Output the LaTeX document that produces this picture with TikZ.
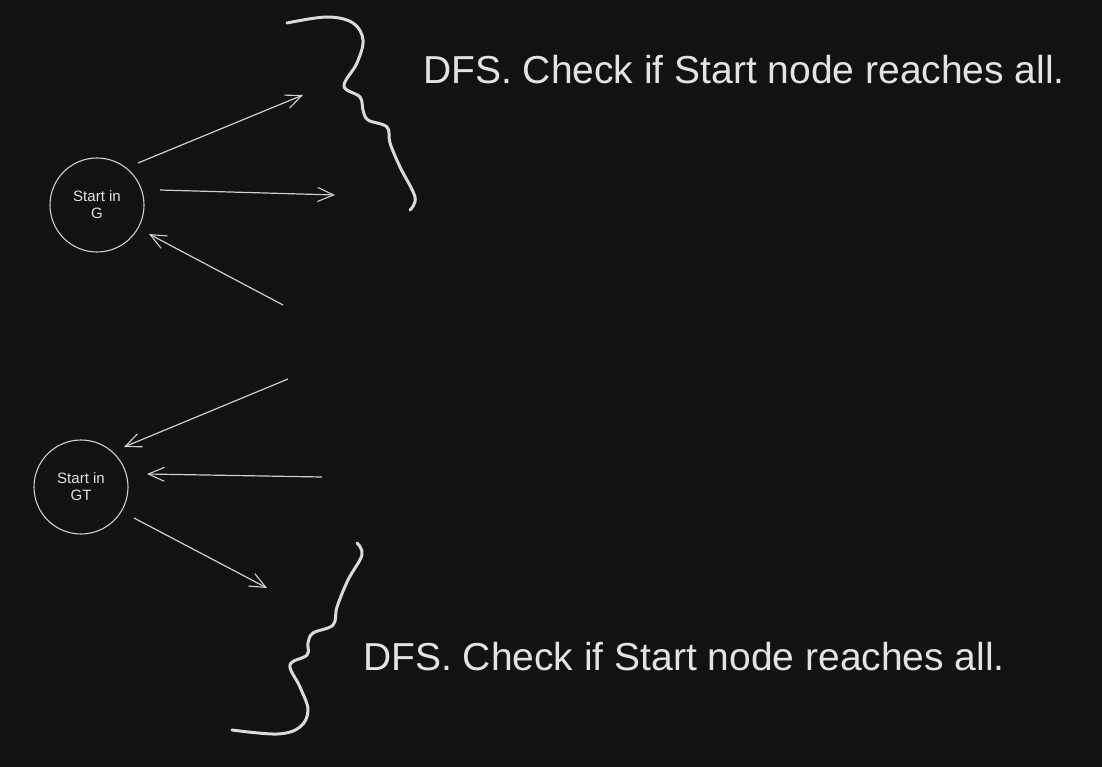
\documentclass[tikz,border=0pt]{standalone}
\usepackage{fontspec}
\setmainfont{Liberation Sans}
\usetikzlibrary{arrows.meta}
\definecolor{bgdark}{HTML}{121212}
\definecolor{inkgray}{HTML}{CFCFCF}
\definecolor{penwhite}{HTML}{DADADA}
\definecolor{textgray}{HTML}{E3E3E3}
\begin{document}
\begin{tikzpicture}[x=1pt, y=-1pt,
    startnode/.style={circle, draw=inkgray, line width=1.1pt, minimum size=94pt, inner sep=0pt,
      align=center, text=textgray, font=\fontsize{15}{17}\selectfont},
    arr/.style={draw=inkgray, line width=1.2pt, -{Straight Barb[length=16pt, width=14pt, line width=1.1pt]}},
    brace/.style={draw=penwhite, line width=3pt, line cap=round, line join=round},
    note/.style={text=textgray, font=\fontsize{39}{46}\selectfont, inner sep=0pt, anchor=west}]
        \fill[bgdark] (0, 0) rectangle (1102, 767);
        \useasboundingbox (0, 0) rectangle (1102, 767);

        \node[startnode] (g) at (97, 205) {Start in\\G};
        \node[startnode] (gt) at (81, 487) {Start in\\GT};

        \coordinate (g1s) at (138, 163);  \coordinate (g1e) at (303, 95);
        \coordinate (g2s) at (160, 190);  \coordinate (g2e) at (335, 195);
        \coordinate (g3s) at (283, 305);  \coordinate (g3e) at (149, 234);
        \coordinate (t1s) at (288, 379);  \coordinate (t1e) at (124, 447);
        \coordinate (t2s) at (322, 477);  \coordinate (t2e) at (147, 474);
        \coordinate (t3s) at (134, 518);  \coordinate (t3e) at (267, 588);

        \draw[arr] (g1s) -- (g1e);
        \draw[arr] (g2s) -- (g2e);
        \draw[arr] (g3s) -- (g3e);
        \draw[arr] (t1s) -- (t1e);
        \draw[arr] (t2s) -- (t2e);
        \draw[arr] (t3s) -- (t3e);

        \draw[brace] plot[smooth, tension=0.6] coordinates {(287, 23) (327, 17) (353, 23) (363, 40) (357, 63) (344, 86)
          (360, 97) (363, 110) (368, 120) (387, 127) (390, 143) (400, 167) (415, 197) (410, 210)};
        \draw[brace] plot[smooth, tension=0.6] coordinates {(357, 543) (362, 555) (348, 580) (337, 607) (333, 625)
          (313, 633) (308, 643) (307, 655) (290, 665) (300, 687) (308, 710) (300, 727) (277, 734) (232, 730)};

        \node[note] (topnote) at (423, 70) {DFS. Check if Start node reaches all.};
        \node[note] (botnote) at (363, 657) {DFS. Check if Start node reaches all.};
\end{tikzpicture}
\end{document}
